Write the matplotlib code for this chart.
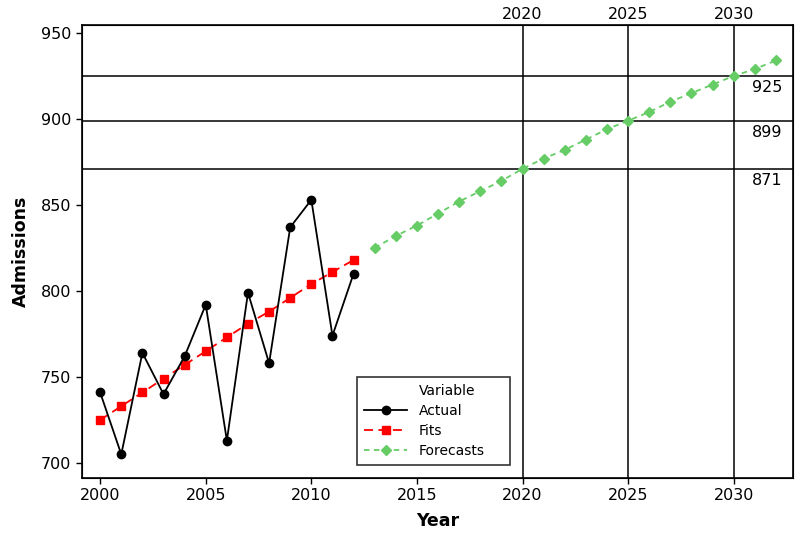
import numpy as np
from matplotlib import pyplot as plt

# Data
years = np.arange(2000, 2013)
actual = [741, 705, 764, 740, 762, 792, 713, 799, 758, 837, 853, 774, 810]
fits = [725, 733, 741, 749, 757, 765, 773, 781, 788, 796, 804, 811, 818]

fc_years = np.arange(2013, 2033)
forecasts = [825, 832, 838, 845, 852, 858, 864, 871, 877, 882,
             888, 894, 899, 904, 910, 915, 920, 925, 929, 934]

ref_years = [2020, 2025, 2030]
ref_values = [871, 899, 925]
ref_labels = ["871", "899", "925"]

bottom_ticks = [2000, 2005, 2010, 2015, 2020, 2025, 2030]
y_ticks = [700, 750, 800, 850, 900, 950]

plt.rcParams['font.family'] = ['DejaVu Sans']

fig = plt.figure(figsize=(8, 5.37), dpi=100)
ax = fig.add_axes([0.1025, 0.110, 0.8885, 0.8434])

# Reference lines
for v in ref_values:
	ax.axhline(v, color='black', lw=1.1, zorder=1)
for yr in ref_years:
	ax.axvline(yr, color='black', lw=1.1, zorder=1)

# invisible entry so "Variable" lines up with the labels
ax.plot([], [], color='none', label='Variable')
ax.plot(years, actual, color='black', lw=1.3, marker='o', ms=6, label='Actual', zorder=4)
ax.plot(years, fits, color='#ff0000', lw=1.3, ls=(0, (5, 3)), marker='s', ms=6,
	label='Fits', zorder=3)
ax.plot(fc_years, forecasts, color='#66cc66', lw=1.3, ls=(0, (3, 2.5)), marker='D', ms=5,
	label='Forecasts', zorder=3)

# Value labels to the right of the 2030 line
for v, t in zip(ref_values, ref_labels):
	ax.text(2031.6, v - 2.5, t, ha='center', va='top', fontsize=11.5)

ax.set_xlim(1999.14, 2032.8)
ax.set_ylim(691.3, 954.6)
ax.set_xticks(bottom_ticks)
ax.set_yticks(y_ticks)
ax.tick_params(direction='out', length=4, labelsize=11.5, width=1)
for s in ax.spines.values():
	s.set_linewidth(1.2)

ax.set_xlabel("Year", fontsize=12.5, fontweight='bold', labelpad=6)
ax.set_ylabel("Admissions", fontsize=12.5, fontweight='bold', labelpad=8)

# Top labels for the vertical reference lines
top = ax.twiny()
top.set_xlim(ax.get_xlim())
top.set_xticks(ref_years)
top.tick_params(length=0, labelsize=11.5, pad=2)

leg = ax.legend(loc='lower left', bbox_to_anchor=(0.387, 0.029, 0.215, 0.2), mode='expand',
	borderaxespad=0, fontsize=10, frameon=True, fancybox=False, edgecolor='black',
	handlelength=3.1, handletextpad=0.85, borderpad=0.5, labelspacing=0.42)
leg.get_frame().set_linewidth(1.2)

fig.savefig("out.png", dpi=100)
